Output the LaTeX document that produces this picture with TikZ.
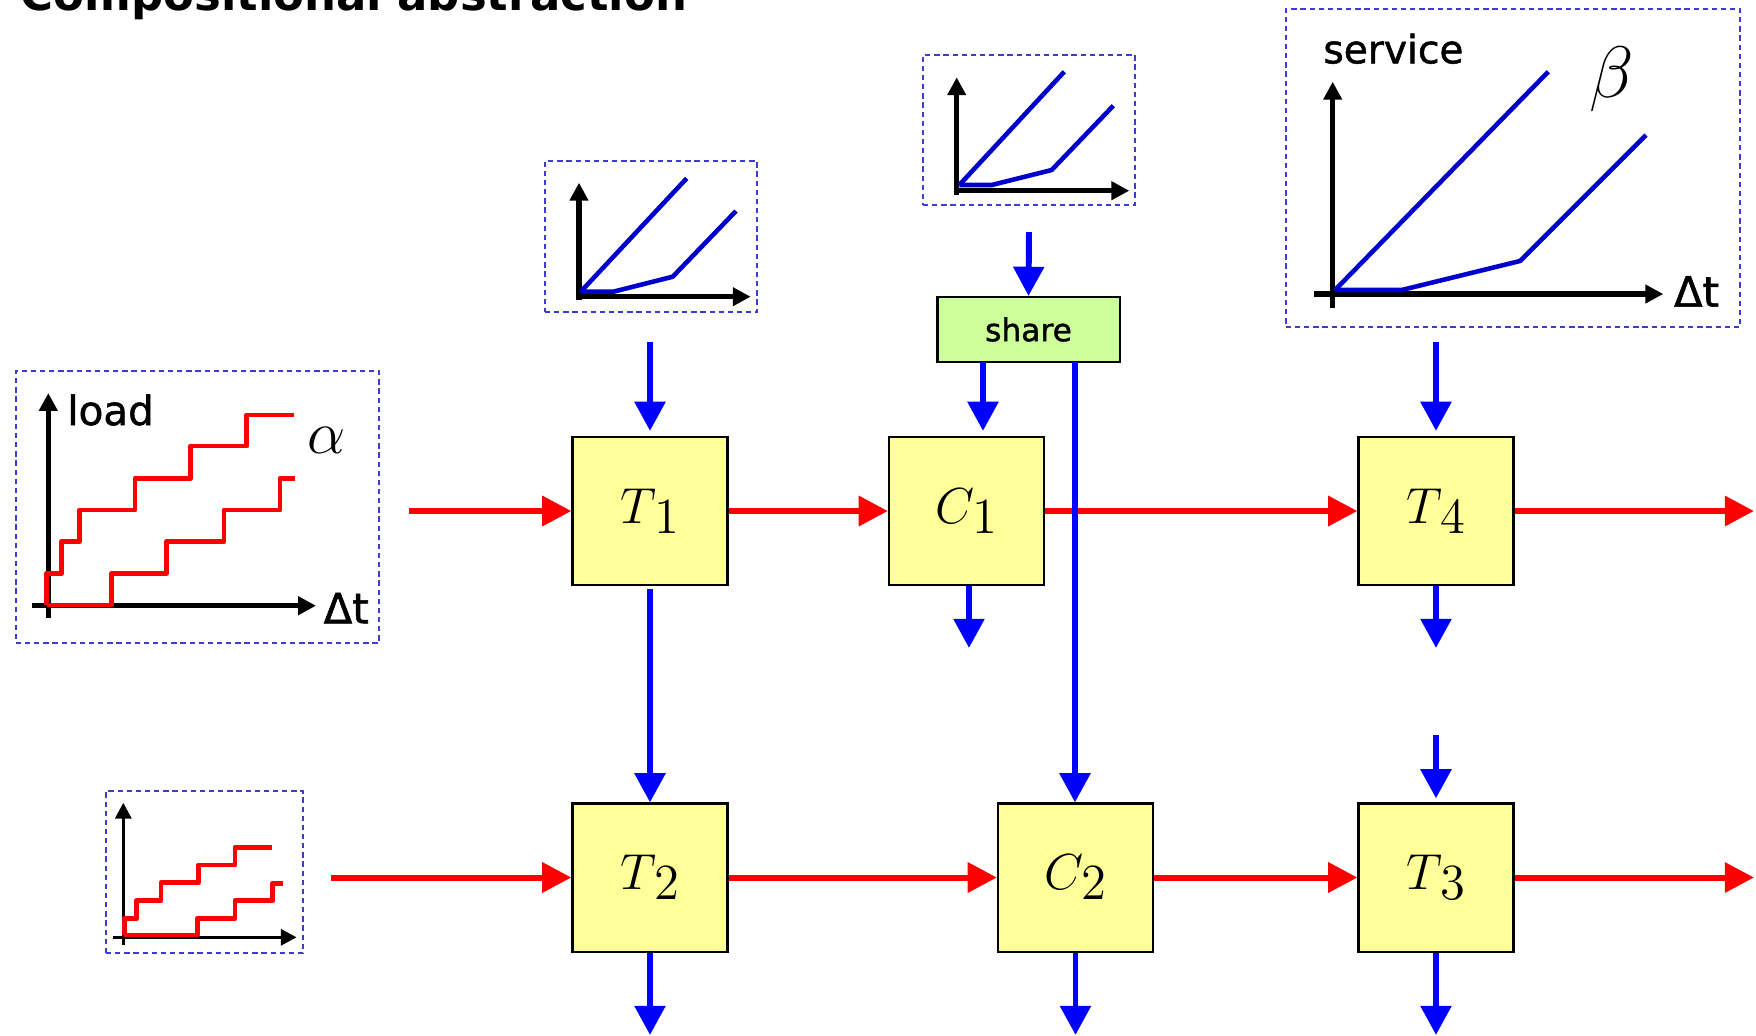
\documentclass[tikz,border=0pt]{standalone}
\usepackage[no-math]{fontspec}
\setmainfont{DejaVu Sans}
\newfontfamily\lblfont[FakeBold=1.3]{DejaVu Sans}
\usetikzlibrary{arrows.meta}
\definecolor{boxy}{RGB}{255,255,153}
\definecolor{shareg}{RGB}{204,255,153}
\definecolor{dashb}{RGB}{60,60,210}
\definecolor{curveb}{RGB}{0,0,204}
\definecolor{redc}{RGB}{255,0,0}
\definecolor{bluec}{RGB}{0,0,255}
\newcommand\blab[2]{$#1\kern-0.03em\raisebox{-0.2em}{$#2$}$}
\tikzset{
 blk/.style={draw=black, line width=0.6pt, fill=boxy, minimum width=1.55cm, minimum height=1.48cm, inner sep=0pt, font=\fontsize{14.2}{17}\selectfont},
 sharebox/.style={draw=black, line width=0.6pt, fill=shareg, minimum width=1.82cm, minimum height=0.65cm, inner sep=0pt},
 dbox/.style={draw=dashb, line width=0.5pt, dash pattern=on 1.5pt off 1.1pt, inner sep=0pt},
 rarr/.style={draw=redc, line width=1.7pt, -{Triangle[length=8.3pt,width=8.3pt]}},
 barr/.style={draw=bluec, line width=1.7pt, -{Triangle[length=8.3pt,width=8.5pt]}},
 axisl/.style={draw=black, line width=1.55pt, -{Triangle[length=5.1pt,width=5.1pt]}},
 axiss/.style={draw=black, line width=1pt, -{Triangle[length=4.5pt,width=4.5pt]}},
 redcurve/.style={draw=redc, line width=1.4pt, line join=round},
 bluecurve/.style={draw=curveb, line width=1.3pt, line join=round},
 txt/.style={anchor=base west, inner sep=0pt},
}
\begin{document}
\begin{tikzpicture}[x=0.01cm,y=-0.01cm]
\useasboundingbox (0,0) rectangle (1756,1035);
\fill[white] (0,0) rectangle (1756,1035);

% title (cut off at top, as in the reference)
\node[txt] (title) at (20,10) {\resizebox{6.66cm}{!}{\bfseries Compositional abstraction}};

% dashed plot boxes
\node[dbox, minimum width=3.63cm, minimum height=2.72cm] (alphabox) at (197.5,507) {};
\node[dbox, minimum width=1.97cm, minimum height=1.62cm] (alphasm) at (204.5,872) {};
\node[dbox, minimum width=2.12cm, minimum height=1.51cm] (svcA) at (651,236.5) {};
\node[dbox, minimum width=2.12cm, minimum height=1.50cm] (svcB) at (1029,130) {};
\node[dbox, minimum width=4.54cm, minimum height=3.18cm] (betabox) at (1513,168) {};

% alpha plot
\draw[axisl] (48.3,618) -- (48.3,393);
\draw[axisl] (31.7,605.7) -- (316,605.7);
\draw[redcurve] (46.7,605) -- (46.7,573.3) -- (61.7,573.3) -- (61.7,541.7) -- (79.3,541.7) -- (79.3,510) -- (135,510) -- (135,478.3) -- (190.7,478.3) -- (190.7,446) -- (246.7,446) -- (246.7,415) -- (294,415);
\draw[redcurve] (46.7,605) -- (111.7,605) -- (111.7,573.3) -- (166.7,573.3) -- (166.7,541.7) -- (224,541.7) -- (224,510) -- (280,510) -- (280,478.3) -- (295,478.3);
\node[txt] (loadl) at (66.7,425) {\resizebox{0.863cm}{!}{\lblfont load}};
\node[txt] (alab) at (307,453) {\fontsize{19}{21}\selectfont$\alpha$};
\node[txt] (dta) at (323,623.3) {\resizebox{0.45cm}{!}{\lblfont Δt}};

% small alpha plot
\draw[axiss] (123.3,945) -- (123.3,802.7);
\draw[axiss] (112.7,937.3) -- (296.7,937.3);
\draw[redcurve] (124.3,935) -- (124.3,918.3) -- (136.7,918.3) -- (136.7,900.7) -- (161,900.7) -- (161,882.7) -- (198.3,882.7) -- (198.3,865) -- (235,865) -- (235,847.3) -- (271.7,847.3);
\draw[redcurve] (124.3,935) -- (197.3,935) -- (197.3,918.3) -- (235,918.3) -- (235,900.7) -- (272.7,900.7) -- (272.7,883.3) -- (283.3,883.3);

% service plot A
\draw[axisl] (579,300) -- (579,182.7);
\draw[axisl] (576.7,296.7) -- (750.7,296.7);
\draw[bluecurve] (580.7,291.7) -- (686.7,178.3);
\draw[bluecurve] (580.7,291.7) -- (613.3,291.7) -- (672.7,276.7) -- (736,211);

% service plot B
\draw[axisl] (956.7,195) -- (956.7,77.3);
\draw[axisl] (954,190.7) -- (1129.3,190.7);
\draw[bluecurve] (959.3,185) -- (1064.3,71.7);
\draw[bluecurve] (959.3,185) -- (991.7,185) -- (1051.7,170) -- (1113.3,105.7);

% beta plot
\draw[axisl] (1332.7,308.3) -- (1332.7,81.7);
\draw[axisl] (1314,294) -- (1663.3,294);
\draw[bluecurve] (1335,290) -- (1548.3,71.7);
\draw[bluecurve] (1335,290) -- (1401.7,290) -- (1520,261) -- (1646,135);
\node[txt] (svcl) at (1322.7,63.3) {\resizebox{1.40cm}{!}{\lblfont service}};
\node[txt] (blab) at (1589,97) {\fontsize{22}{24}\selectfont$\beta$};
\node[txt] (dtb) at (1673.3,306.7) {\resizebox{0.45cm}{!}{\lblfont Δt}};

% blocks
\node[blk] (T1) at (650,511) {\blab{T}{1}};
\node[blk] (C1) at (966.5,511) {\blab{C}{1}};
\node[blk] (T4) at (1436,511) {\blab{T}{4}};
\node[blk] (T2) at (650,877.5) {\blab{T}{2}};
\node[blk] (C2) at (1075.5,877.5) {\blab{C}{2}};
\node[blk] (T3) at (1436,877.5) {\blab{T}{3}};
\node[sharebox] (share) at (1028.5,329.5) {\resizebox{0.867cm}{!}{\lblfont share}};

% coordinates for free ends
\coordinate (a1) at (409,511);
\coordinate (o1) at (1754,511);
\coordinate (a2) at (331,877.5);
\coordinate (o2) at (1754,877.5);
\coordinate (b1) at (650,342);
\coordinate (b2) at (1029,232);
\coordinate (b3) at (1436,342);
\coordinate (b4) at (1436,735);
\coordinate (s1) at (983,362);
\coordinate (s2) at (1075,362);
\coordinate (c1o) at (969,648);
\coordinate (t4o) at (1436,648);
\coordinate (t2o) at (650,1035);
\coordinate (c2o) at (1075.5,1035);
\coordinate (t3o) at (1436,1035);

% red flow
\draw[rarr] (a1) -- (T1.west);
\draw[rarr] (T1.east) -- (C1.west);
\draw[rarr] (C1.east) -- (T4.west);
\draw[rarr] (T4.east) -- (o1);
\draw[rarr] (a2) -- (T2.west);
\draw[rarr] (T2.east) -- (C2.west);
\draw[rarr] (C2.east) -- (T3.west);
\draw[rarr] (T3.east) -- (o2);

% blue flow
\draw[barr, shorten >=0.05cm] (b1) -- (T1.north);
\draw[barr, shorten <=0.03cm] (T1.south) -- (T2.north);
\draw[barr] (b2) -- (share.north);
\draw[barr, shorten >=0.05cm] (s1) -- (s1 |- C1.north);
\draw[barr] (s2) -- (s2 |- C2.north);
\draw[barr] (c1o |- C1.south) -- (c1o);
\draw[barr, shorten >=0.05cm] (b3) -- (T4.north);
\draw[barr] (T4.south) -- (t4o);
\draw[barr, shorten >=0.04cm] (b4) -- (T3.north);
\draw[barr] (T2.south) -- (t2o);
\draw[barr] (C2.south) -- (c2o);
\draw[barr] (T3.south) -- (t3o);
\end{tikzpicture}
\end{document}
